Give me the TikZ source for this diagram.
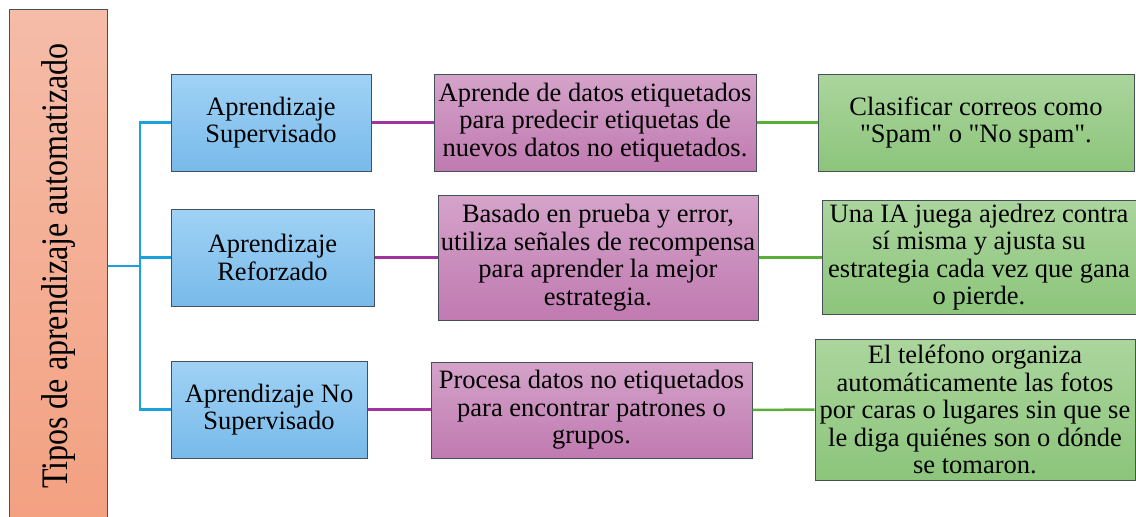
\documentclass[tikz,border=0pt]{standalone}
\usepackage{fontspec}
\setmainfont{Liberation Serif}
\newfontfamily\bodyfont{Liberation Serif}
\definecolor{lefttop}{HTML}{F5BCA8}
\definecolor{leftbot}{HTML}{F3A080}
\definecolor{bluetop}{HTML}{A0D2F5}
\definecolor{bluebot}{HTML}{78BAEA}
\definecolor{purtop}{HTML}{D4A3CA}
\definecolor{purbot}{HTML}{C07AB0}
\definecolor{grntop}{HTML}{ABD59D}
\definecolor{grnbot}{HTML}{8CC57B}
\definecolor{edgegray}{HTML}{46505A}
\definecolor{lineblue}{HTML}{1BA1DB}
\definecolor{linepur}{HTML}{A2329E}
\definecolor{linegrn}{HTML}{5AAE37}
\tikzset{
  boxbase/.style={rectangle, draw=edgegray, line width=1pt, inner sep=0pt, align=center,
    font=\bodyfont\fontsize{26.5}{27.5}\selectfont},
  bluebox/.style={boxbase, top color=bluetop, bottom color=bluebot},
  purbox/.style={boxbase, top color=purtop, bottom color=purbot},
  grnbox/.style={boxbase, top color=grntop, bottom color=grnbot},
  leftbox/.style={boxbase, top color=lefttop, bottom color=leftbot},
  blueline/.style={draw=lineblue, line width=2.5pt},
  purline/.style={draw=linepur, line width=2.5pt},
  grnline/.style={draw=linegrn, line width=2.5pt}
}
\begin{document}
\begin{tikzpicture}[x=1pt,y=-1pt]
\clip (0,0) rectangle (1136,517);
\node[leftbox, minimum width=98pt, minimum height=521pt] (L) at (58,269.5) {};
\node[rotate=90] (Lt) at (58,266) {\scalebox{1}[1.17]{\bodyfont\fontsize{32}{36}\selectfont Tipos de aprendizaje automatizado}};

\node[bluebox, minimum width=200pt, minimum height=97pt] (b1) at (271,122.5) {Aprendizaje\\Supervisado};
\node[bluebox, minimum width=203pt, minimum height=97pt] (b2) at (272.5,257.5) {Aprendizaje\\Reforzado};
\node[bluebox, minimum width=196pt, minimum height=97pt] (b3) at (269,409.5) {Aprendizaje\ No\\Supervisado};

\node[purbox, minimum width=322pt, minimum height=97pt] (p1) at (595,122.5) {Aprende de datos etiquetados\\para predecir etiquetas de\\nuevos datos no etiquetados.};
\node[purbox, minimum width=320pt, minimum height=125pt] (p2) at (598,257.5) {Basado en prueba y error,\\utiliza señales de recompensa\\para aprender la mejor\\estrategia.};
\node[purbox, minimum width=321pt, minimum height=96pt] (p3) at (591.5,410) {Procesa datos no etiquetados\\para encontrar patrones o\\grupos.};

\node[grnbox, minimum width=316pt, minimum height=97pt] (g1) at (976,122.5) {Clasificar\ correos como\\"Spam" o "No spam".};
\node[grnbox, minimum width=314pt, minimum height=114pt] (g2) at (979,257) {Una IA juega ajedrez contra\\sí misma y ajusta su\\estrategia cada vez que gana\\o pierde.};
\node[grnbox, minimum width=320pt, minimum height=141pt] (g3) at (975,409.5) {El teléfono organiza\\automáticamente las fotos\\por caras o lugares sin que se\\le diga quiénes son o dónde\\se tomaron.};

\coordinate (trunk) at (140,266);
\draw[blueline] (b1.west) -| (trunk) |- (b3.west);
\draw[blueline] (trunk |- b2.west) -- (b2.west);
\draw[blueline] (L.east |- trunk) -- (trunk);

\draw[purline] (b1.east) -- (p1.west);
\draw[purline] (b2.east) -- (p2.west);
\draw[purline] (b3.east) -- (b3.east -| p3.west);

\draw[grnline] (p1.east) -- (g1.west);
\draw[grnline] (p2.east) -- (p2.east -| g2.west);
\draw[grnline] (p3.east) -- (g3.west);
\end{tikzpicture}
\end{document}
